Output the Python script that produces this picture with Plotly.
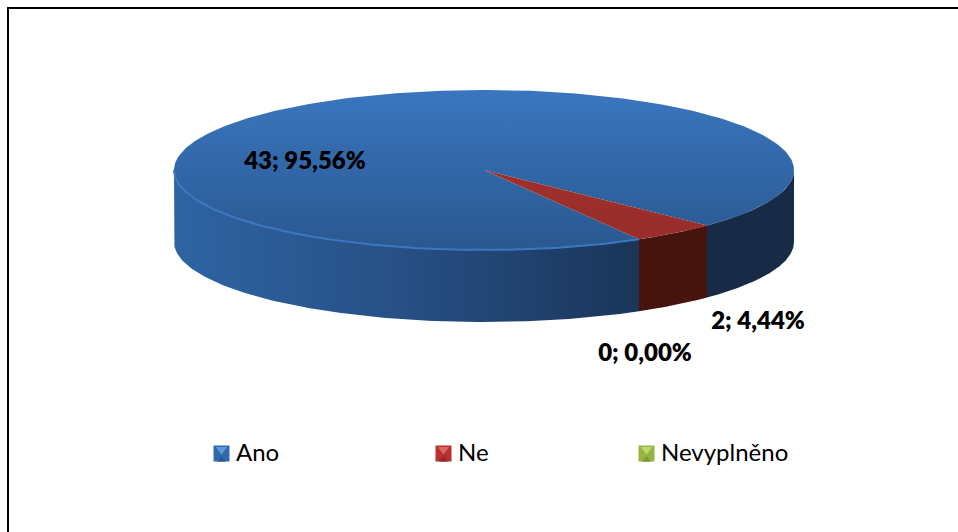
import numpy as np
import plotly.graph_objects as go

categories = ["Ano", "Ne", "Nevyplněno"]
values = [43, 2, 0]
label_xy = [(305, 162.5), (758, 323), (645, 355)]
legend_x = [221.5, 443.5, 646.5]
legend_y = 453.5
first_angle = 60.0
CX, CY, RX, RY, DEPTH = 484.0, 170.0, 310.0, 80.0, 72.0

top_colors = [("#3a76bf", "#2a5890"), ("#a8322f", "#972d2b"), ("#8fb33f", "#6f8e2f")]
side_stops = [[0, "#2e64a3"], [0.5, "#274f84"], [1, "#1a3559"]]
side_right = "#172b47"
side_red = "#45140f"
legend_base = ["#3269ad", "#b5322f", "#93b643"]
legend_dark = ["#234d82", "#7c2220", "#667f29"]
legend_light = ["#62a5e8", "#e36f6a", "#c6de70"]


def ell(t, dy=0.0):
    r = np.radians(t)
    return CX + RX * np.cos(r), CY + dy + RY * np.sin(r)


def side_poly(a, b):
    t = np.linspace(a, b, 120)
    x1, y1 = ell(t)
    x2, y2 = ell(t[::-1], DEPTH)
    return np.r_[x1, x2, x1[0]], np.r_[y1, y2, y1[0]]


fig = go.Figure()
total = sum(values)
spans, cur = [], first_angle
for v in values:
    spans.append((cur, cur + 360.0 * v / total))
    cur += 360.0 * v / total

# side walls
ano_a, ano_b = spans[0]
x, y = side_poly(ano_a, 180)
fig.add_trace(go.Scatter(x=x, y=y, mode="lines", line=dict(width=0), fill="toself", showlegend=False, hoverinfo="skip",
                         fillgradient=dict(type="horizontal", colorscale=side_stops, start=CX - RX, stop=ell(ano_a)[0])))
x, y = side_poly(ano_b - 360, 0)
fig.add_trace(go.Scatter(x=x, y=y, mode="lines", line=dict(width=0), fill="toself", fillcolor=side_right,
                         showlegend=False, hoverinfo="skip"))
ne_a, ne_b = spans[1]
x, y = side_poly(ne_a - 360, ne_b - 360)
fig.add_trace(go.Scatter(x=x, y=y, mode="lines", line=dict(width=0), fill="toself", fillcolor=side_red,
                         showlegend=False, hoverinfo="skip"))

# top faces
for (a, b), (c0, c1) in zip(spans, top_colors):
    if b - a <= 0:
        continue
    t = np.linspace(a, b, 360)
    xe, ye = ell(t)
    x = np.r_[CX, xe, CX]
    y = np.r_[CY, ye, CY]
    fig.add_trace(go.Scatter(x=x, y=y, mode="lines", line=dict(width=0), fill="toself", showlegend=False, hoverinfo="skip",
                             fillgradient=dict(type="vertical", colorscale=[[0, c0], [1, c1]],
                                               start=CY - RY, stop=CY + RY)))

# rim highlight
t = np.linspace(ano_a, 180, 120)
xe, ye = ell(t)
fig.add_trace(go.Scatter(x=xe, y=ye, mode="lines", line=dict(width=2, color="#3c78c2"), showlegend=False, hoverinfo="skip"))

# value labels
texts = [f"{v}; {100 * v / total:.2f}%".replace(".", ",") for v in values]
fig.add_trace(go.Scatter(x=[p[0] for p in label_xy], y=[p[1] for p in label_xy], mode="text", text=texts,
                         textposition="middle center", showlegend=False, hoverinfo="skip",
                         textfont=dict(family="Lato", size=24, color="#000000", weight=800)))

# legend: bevelled swatches and their names
for name, lx, base, dark, light in zip(categories, legend_x, legend_base, legend_dark, legend_light):
    fig.add_trace(go.Scatter(x=[lx], y=[legend_y], mode="markers", showlegend=False, hoverinfo="skip",
                             marker=dict(symbol="square", size=16, color=base, line=dict(width=0))))
    fig.add_trace(go.Scatter(x=[lx], y=[legend_y + 6.5], mode="markers", showlegend=False, hoverinfo="skip",
                             marker=dict(symbol="triangle-up", size=8, color=dark, opacity=0.55, line=dict(width=0))))
    fig.add_trace(go.Scatter(x=[lx], y=[legend_y - 4], mode="markers", showlegend=False, hoverinfo="skip",
                             marker=dict(symbol="triangle-down", size=10, color=light, opacity=0.85, line=dict(width=0))))
    fig.add_trace(go.Scatter(x=[lx + 14.5], y=[legend_y + 1], mode="text", text=[name], textposition="middle right",
                             showlegend=False, hoverinfo="skip", textfont=dict(family="Lato", size=24, color="#000000")))

fig.update_layout(
    width=958, height=532, margin=dict(l=0, r=0, t=0, b=0), paper_bgcolor="white", plot_bgcolor="white",
    xaxis=dict(range=[0, 958], visible=False, fixedrange=True),
    yaxis=dict(range=[532, 0], visible=False, fixedrange=True),
    shapes=[
        dict(type="line", x0=7, x1=958, y0=8, y1=8, line=dict(color="black", width=2)),
        dict(type="line", x0=8, x1=8, y0=7, y1=532, line=dict(color="black", width=2)),
    ],
)
fig.write_html("out.html", config={"displayModeBar": False}, post_script="document.body.style.margin='0';")
